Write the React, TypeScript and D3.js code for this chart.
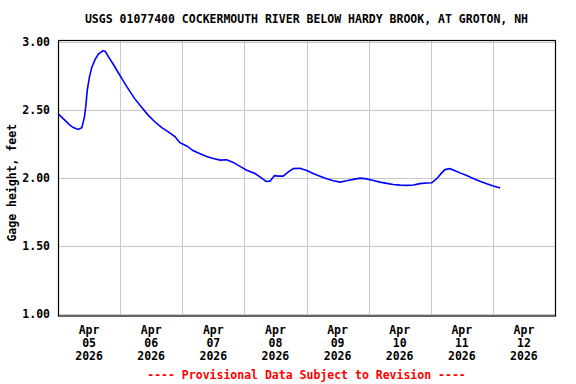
import { useEffect, useRef } from "react";
import * as d3 from "d3";

const title = "USGS 01077400 COCKERMOUTH RIVER BELOW HARDY BROOK, AT GROTON, NH";
const yLabel = "Gage height, feet";
const footer = "---- Provisional Data Subject to Revision ----";

const dayTicks = ["05", "06", "07", "08", "09", "10", "11", "12"];
const yTicks = [1.0, 1.5, 2.0, 2.5, 3.0];

// hours after Apr 05 00:00
const hours = [
  0, 2.7, 4.6, 5.9, 7.8, 9.2, 10.2, 10.7, 11.3, 12.1, 13.0, 14.3, 15.6, 17.3,
  18.2, 19.4, 21.4, 23.3, 25.2, 27.2, 29.7, 32.3, 34.9, 37.5, 40.1, 42.6, 45.2,
  47.1, 49.7, 52.3, 54.9, 57.4, 60.0, 62.6, 65.2, 67.7, 70.3, 72.9, 76.1, 78.0,
  80.4, 81.9, 83.6, 85.1, 87.0, 89.0, 90.9, 93.5, 96.1, 98.6, 101.2, 103.8,
  106.4, 108.9, 111.5, 114.1, 116.7, 119.3, 121.8, 124.4, 127.0, 129.5, 132.1,
  134.7, 137.3, 139.8, 142.4, 144.4, 145.6, 146.9, 148.2, 149.5, 151.4, 153.4,
  155.3, 157.9, 160.4, 163.0, 165.6, 168.2, 170.8,
];
const gage = [
  2.47, 2.42, 2.385, 2.367, 2.353, 2.367, 2.444, 2.517, 2.64, 2.734, 2.807,
  2.867, 2.908, 2.932, 2.928, 2.891, 2.831, 2.77, 2.71, 2.65, 2.578, 2.517,
  2.457, 2.408, 2.367, 2.336, 2.3, 2.256, 2.232, 2.196, 2.174, 2.154, 2.14,
  2.128, 2.13, 2.111, 2.082, 2.053, 2.029, 2.005, 1.971, 1.973, 2.014, 2.01,
  2.01, 2.041, 2.065, 2.068, 2.052, 2.029, 2.01, 1.99, 1.976, 1.966, 1.976,
  1.986, 1.995, 1.99, 1.978, 1.966, 1.957, 1.949, 1.944, 1.942, 1.945, 1.955,
  1.96, 1.961, 1.98, 2.004, 2.034, 2.058, 2.065, 2.05, 2.034, 2.014, 1.993,
  1.973, 1.954, 1.937, 1.922,
];

const FONT = "'DejaVu Sans Mono', monospace";

export default function App() {
  const ref = useRef<SVGSVGElement>(null);

  useEffect(() => {
    const width = 576;
    const height = 384;
    const left = 58;
    const right = 555;
    const top = 40;
    const bottom = 315.5;

    const svg = d3.select(ref.current);
    svg.selectAll("*").remove();

    const start = new Date(2026, 3, 5);
    const end = new Date(2026, 3, 13);
    const x = d3.scaleTime().domain([start, end]).range([left, right]);
    const y = d3.scaleLinear().domain([1, 3]).range([313.5, 41.5]);

    svg.append("rect").attr("width", width).attr("height", height).attr("fill", "#fff");

    // grid
    const days = d3.timeDay.range(d3.timeDay.offset(start, 1), end);
    svg
      .append("g")
      .selectAll("line")
      .data(days)
      .join("line")
      .attr("x1", (d) => Math.round(x(d)) + 0.5)
      .attr("x2", (d) => Math.round(x(d)) + 0.5)
      .attr("y1", top)
      .attr("y2", bottom)
      .attr("stroke", "#c8c8c8");

    svg
      .append("g")
      .selectAll("line")
      .data(yTicks)
      .join("line")
      .attr("x1", left)
      .attr("x2", right)
      .attr("y1", (d) => Math.round(y(d)) + 0.5)
      .attr("y2", (d) => Math.round(y(d)) + 0.5)
      .attr("stroke", "#c8c8c8");

    // data line
    const pts: [Date, number][] = hours.map((h, i) => [
      new Date(start.getTime() + h * 3600 * 1000),
      gage[i],
    ]);
    const line = d3
      .line<[Date, number]>()
      .x((d) => x(d[0]))
      .y((d) => y(d[1]));
    svg
      .append("path")
      .datum(pts)
      .attr("d", line)
      .attr("fill", "none")
      .attr("stroke", "#0000ff")
      .attr("stroke-width", 1.6);

    // frame
    svg
      .append("rect")
      .attr("x", left + 0.5)
      .attr("y", top + 0.5)
      .attr("width", right - left)
      .attr("height", bottom - top)
      .attr("fill", "none")
      .attr("stroke", "#000")
      .attr("stroke-width", 1.2);

    const txt = (sel: any) =>
      sel
        .attr("font-family", FONT)
        .attr("font-weight", "bold")
        .attr("font-size", 11.5);

    // y tick labels
    svg
      .append("g")
      .selectAll("text")
      .data(yTicks)
      .join("text")
      .call(txt)
      .attr("x", 50)
      .attr("y", (d) => y(d) + 4)
      .attr("text-anchor", "end")
      .text((d) => d3.format(".2f")(d));

    // x tick labels (at midday)
    const labG = svg
      .append("g")
      .selectAll("g")
      .data(days.length ? [start, ...days] : [])
      .join("g")
      .attr("transform", (d) => `translate(${x(d3.timeHour.offset(d, 12))},0)`);
    labG.each(function (d, i) {
      const g = d3.select(this);
      ["Apr", dayTicks[i], "2026"].forEach((s, k) => {
        g.append("text")
          .call(txt)
          .attr("y", 334 + k * 13)
          .attr("text-anchor", "middle")
          .text(s);
      });
    });

    // title
    svg
      .append("text")
      .call(txt)
      .attr("x", (left + right) / 2)
      .attr("y", 23)
      .attr("text-anchor", "middle")
      .text(title);

    // y axis label
    svg
      .append("text")
      .call(txt)
      .attr("transform", `translate(16,${(top + bottom) / 2 + 5}) rotate(-90)`)
      .attr("text-anchor", "middle")
      .text(yLabel);

    // footer
    svg
      .append("text")
      .call(txt)
      .attr("x", (left + right) / 2)
      .attr("y", 379)
      .attr("text-anchor", "middle")
      .attr("fill", "#ff0000")
      .text(footer);
  }, []);

  return (
    <svg
      ref={ref}
      width={576}
      height={384}
      style={{ position: "absolute", left: 0, top: 0 }}
    ></svg>
  );
}
